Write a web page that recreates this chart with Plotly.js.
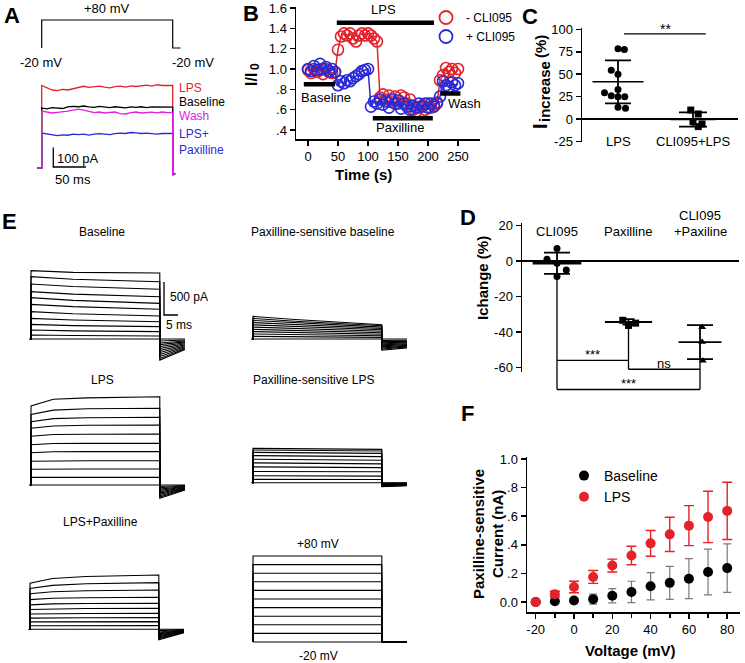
<!DOCTYPE html>
<html><head><meta charset="utf-8">
<script src="https://cdn.plot.ly/plotly-3.0.1.min.js"></script>
<style>html,body{margin:0;padding:0;background:#fff;}#chart{width:745px;height:663px;}</style>
</head><body><div id="chart"></div>
<script>
// ================= DATA =================
// Panel A: voltage protocol (mV, ms) and representative currents (pA)
const protoAHold = -20, protoAStep = 80, protoADur = 200;
const tA = [0,8,16,24,32,40,48,56,64,72,80,88,96,104,112,120,128,136,144,152,160,168,176,184,192,200];
const aLps     = [423,410,400,397,403,400,407,415,419,413,418,420,415,411,417,420,415,421,418,423,425,420,427,423,425,424];
const aBase    = [308,303,310,308,305,313,316,314,318,313,311,316,312,310,314,312,308,313,311,314,310,313,312,314,313,312];
const aWash    = [292,287,282,285,287,292,297,302,297,289,284,287,282,285,287,279,277,284,287,282,285,287,283,287,284,285];
const aLpsPax  = [179,174,169,166,170,168,174,171,174,169,174,176,174,171,176,179,177,182,180,177,179,176,174,177,179,178];
const aTail = [-36,-28];
const aLabels = ['LPS','Baseline','Wash','LPS+','Paxilline'];

// Panel B: normalised current vs time
const tB = [0,5,10,15,20,25,30,35,40,45,50,55,60,65,70,75,80,85,90,95,100,105,110,115,120,125,130,135,140,145,150,155,160,165,170,175,180,185,190,195,200,205,210,215,220,225,230,235,240,245,250];
const bMinusCli = [0.99,0.96,1.00,0.97,0.99,0.95,1.00,0.97,0.96,0.97,1.19,1.32,1.35,1.33,1.35,1.30,1.27,1.33,1.35,1.33,1.35,1.33,1.30,1.27,0.72,0.75,0.70,0.74,0.68,0.73,0.66,0.74,0.72,0.66,0.70,0.60,0.58,0.62,0.64,0.60,0.66,0.62,0.65,0.66,0.89,0.94,1.01,0.97,1.00,0.96,1.00];
const bPlusCli  = [1.00,0.98,1.03,0.99,1.05,1.00,1.02,0.98,1.00,0.97,0.84,0.88,0.86,0.89,0.88,0.91,0.93,0.95,0.98,0.99,1.00,0.63,0.68,0.66,0.70,0.65,0.68,0.62,0.70,0.66,0.69,0.61,0.66,0.63,0.60,0.64,0.62,0.66,0.63,0.66,0.62,0.66,0.63,0.67,0.73,0.88,0.84,0.82,0.87,0.84,0.86];
const bPhaseNames = ['LPS','Baseline','Paxilline','Wash'];
const bPhaseStart = [48,-7,108,221];
const bPhaseEnd   = [210,45,208,254];
const bPhaseLevel = [1.455,0.85,0.515,0.76];
const bTicksY = [0.4,0.6,0.8,1.0,1.2,1.4,1.6];
const bTickTextY = ['.4','.6','.8','1.0','1.2','1.4','1.6'];

// Panel C: I increase (%)
const cCats = ['LPS','CLI095+LPS'];
const cLpsVals = [78.5,77.7,54.4,50,33,29.3,26,24.8,24.8,13,11.9];
const cLpsJit  = [0,0.085,-0.09,0,0,-0.18,-0.09,0,0.09,0,0.1];
const cCliVals = [10,5.6,-3,-5.5,-8.5];
const cCliJit  = [-0.03,0.07,0,0.12,0.07];
const cMeans = [41.5,-0.5];
const cSDs   = [24,8];
const cSig = {from:1.08, to:2.17, level:95, text:'**'};
const cTicks = [-25,0,25,50,75,100];
const cTickText = ['-25','0','25','50','75','100'];

// Panel D: I change (%)
const dCats = ['CLI095','Paxilline','CLI095','+Paxiline'];
const dCliVals = [7,1,-1.3,-5,-8.7];
const dCliJit  = [0,-0.14,0,0.13,0];
const dPaxVals = [-33.4,-36.3,-35];
const dPaxJit  = [-0.08,0,0.1];
const dCpVals  = [-37.3,-45.6,-56.2];
const dCpJit   = [0.03,0.03,0.04];
const dMeans = [-1.3,-34.3,-45.7];
const dSDs   = [6,1.5,9.6];
const dSigFrom  = [1,2,1];
const dSigTo    = [2,3,3];
const dSigLevel = [-56,-61,-72.4];
const dSigText  = ['***','ns','***'];
const dTicks = [-60,-40,-20,0,20];
const dTickText = ['-60','-40','-20','0','20'];

// Panel E: current families (pA) at sample times (ms); tails after the pulse
const ePulse = 46, eTailEnd = 55;
const stepLevels = [-20,-10,0,10,20,30,40,50,60,70,80];
const baseT = [0,15,46];
const baseI0  = [1035,944,833,717,626,525,414,313,222,136,61,0];
const baseI15 = [1010,905,795,680,585,490,382,288,203,123,52,0];
const baseI46 = [1000,868,753,641,540,450,348,262,187,111,45,0];
const baseTail0 = [-320,-295,-265,-235,-205,-175,-145,-115,-85,-60,-30,0];
const baseTail9 = [-160,-148,-133,-118,-103,-88,-73,-58,-43,-30,-15,0];
const pbT = [0,15,46];
const pbI0  = [343,312,280,248,214,180,146,112,76,40,0];
const pbI15 = [295,270,244,218,188,158,128,98,67,35,0];
const pbI46 = [217,200,180,160,140,118,95,72,50,25,0];
const pbTail0 = [-170,-152,-136,-120,-104,-88,-72,-56,-40,-22,0];
const pbTail9 = [-135,-120,-108,-96,-84,-72,-60,-48,-36,-18,0];
const lpsT = [0,8,20,46];
const lpsI0  = [1197,1070,960,860,740,610,490,360,238,115,0];
const lpsI8  = [1300,1135,1005,895,765,628,503,367,241,117,0];
const lpsI20 = [1320,1155,1020,905,770,630,505,368,242,117,0];
const lpsI46 = [1338,1162,1026,909,773,632,505,368,242,117,0];
const lpsTail0 = [-200,-182,-162,-142,-122,-102,-82,-62,-42,-22,0];
const lpsTail9 = [-75,-68,-60,-52,-45,-38,-30,-22,-15,-8,0];
const plT = [0,20,46];
const plI0  = [520,495,460,410,355,300,240,170,105,50,0];
const plI20 = [515,488,452,402,346,290,232,167,101,50,0];
const plI46 = [505,480,445,395,340,285,228,165,100,48,0];
const plTail0 = [-60,-55,-50,-45,-40,-34,-28,-22,-15,-8,0];
const plTail9 = [-45,-41,-37,-33,-29,-25,-21,-16,-11,-6,0];
const lpT = [0,8,20,46];
const lpI0  = [697,620,540,450,370,300,232,170,112,54,0];
const lpI8  = [770,665,570,470,385,310,238,174,114,55,0];
const lpI20 = [800,690,585,478,390,315,240,176,115,55,0];
const lpI46 = [823,707,596,485,394,318,242,177,116,56,0];
const lpTail0 = [-160,-145,-130,-115,-100,-85,-70,-55,-40,-20,0];
const lpTail9 = [-50,-45,-40,-35,-30,-25,-20,-15,-10,-5,0];

// Panel F: Paxilline-sensitive current (nA) vs voltage
const fV = [-20,-10,0,10,20,30,40,50,60,70,80];
const fBase    = [0,0.005,0.01,0.02,0.044,0.07,0.11,0.134,0.163,0.21,0.237];
const fBaseErr = [0,0.01,0.01,0.035,0.05,0.075,0.095,0.115,0.14,0.16,0.17];
const fLps     = [0,0.055,0.105,0.175,0.255,0.325,0.41,0.473,0.534,0.595,0.637];
const fLpsErr  = [0,0.02,0.04,0.045,0.045,0.065,0.09,0.12,0.14,0.18,0.2];
const fTicksX = [-20,0,20,40,60,80];
const fTickTextX = ['-20','0','20','40','60','80'];
const fMinorX = [-10,10,30,50,70];
const fTicksY = [0,0.2,0.4,0.6,0.8,1.0];
const fTickTextY = ['0.0','.2','.4','.6','.8','1.0'];

// ================= STYLE / LAYOUT HELPERS =================
const W = 745, H = 663;
const FONT = 'Arial, "Liberation Sans", Helvetica, sans-serif';
const RED = '#e3222a', BLUE = '#2a2ad4', MAG = '#e020e0', BLK = '#000000';
function xmap(pxL, pxR, px0, v0, s){ return {domain:[pxL/W, pxR/W], range:[v0+(pxL-px0)/s, v0+(pxR-px0)/s]}; }
function ymap(pxT, pxB, px0, v0, s){ return {domain:[1-pxB/H, 1-pxT/H], range:[v0-(pxB-px0)/s, v0+(px0-pxT)/s]}; }
const hidden = {visible:false, fixedrange:true, showgrid:false, zeroline:false};
const shown = {showline:true, linecolor:BLK, linewidth:1.5, ticks:'outside', ticklen:5, tickwidth:1.5, tickcolor:BLK,
  showgrid:false, zeroline:false, fixedrange:true, tickfont:{family:FONT, size:13, color:BLK}};

const traces = [];
function line(xa, ya, x, y, color, width, extra){
  traces.push(Object.assign({type:'scatter', mode:'lines', x, y, xaxis:xa, yaxis:ya, showlegend:false, hoverinfo:'skip',
    line:{color, width}}, extra||{}));
}

// ---- Panel A ----
line('x','y',[0,0,protoADur,protoADur,protoADur+12],[protoAHold,protoAStep,protoAStep,protoAHold,protoAHold],BLK,1.2);
[[aLps,RED],[aBase,BLK],[aLpsPax,BLUE],[aWash,MAG]].forEach(([v,c])=>{
  line('x2','y2',[-7,0].concat(tA,[protoADur,protoADur+4]),[0,0].concat(v,aTail),c,1.3);
});
const sbA = {t:17.7, i:5, dt:50, di:100};
line('x2','y2',[sbA.t,sbA.t,sbA.t+sbA.dt],[sbA.i+sbA.di,sbA.i,sbA.i],BLK,1.3);

// ---- Panel B ----
line('x3','y3',tB,bMinusCli,RED,1.5,{mode:'lines+markers',marker:{symbol:'circle-open',size:11,color:RED,line:{width:1.6,color:RED}}});
line('x3','y3',tB,bPlusCli,BLUE,1.5,{mode:'lines+markers',marker:{symbol:'circle-open',size:11,color:BLUE,line:{width:1.6,color:BLUE}}});
bPhaseNames.forEach((n,i)=>line('x3','y3',[bPhaseStart[i],bPhaseEnd[i]],[bPhaseLevel[i],bPhaseLevel[i]],BLK,4.5));
traces.push({type:'scatter',mode:'markers',x:[null],y:[null],xaxis:'x3',yaxis:'y3',name:'- CLI095',legend:'legend2',
  marker:{symbol:'circle-open',size:13,color:RED,line:{width:1.8,color:RED}}});
traces.push({type:'scatter',mode:'markers',x:[null],y:[null],xaxis:'x3',yaxis:'y3',name:'+ CLI095',legend:'legend2',
  marker:{symbol:'circle-open',size:13,color:BLUE,line:{width:1.8,color:BLUE}}});

// ---- Panel C ----
function groupMarks(xa, ya, k, vals, jit, symbol, mean, sd, meanHalf, capPx, meanW){
  traces.push({type:'scatter',mode:'markers',x:jit.map(j=>k+j),y:vals,xaxis:xa,yaxis:ya,showlegend:false,hoverinfo:'skip',
    marker:{symbol,size:7,color:BLK},cliponaxis:false});
  line(xa,ya,[k-meanHalf,k+meanHalf],[mean,mean],BLK,meanW||1.4);
  traces.push({type:'scatter',mode:'markers',x:[k],y:[mean],xaxis:xa,yaxis:ya,showlegend:false,hoverinfo:'skip',
    marker:{size:2,opacity:0},error_y:{type:'data',array:[sd],visible:true,color:BLK,thickness:1.8,width:capPx}});
}
groupMarks('x4','y4',1,cLpsVals,cLpsJit,'circle',cMeans[0],cSDs[0],0.34,13);
groupMarks('x4','y4',2,cCliVals,cCliJit,'square',cMeans[1],cSDs[1],0.3,14);
line('x4','y4',[cSig.from,cSig.to],[cSig.level,cSig.level],BLK,1.3);

// ---- Panel D ----
groupMarks('x5','y5',1,dCliVals,dCliJit,'circle',dMeans[0],dSDs[0],0.34,13,2.5);
groupMarks('x5','y5',2,dPaxVals,dPaxJit,'square',dMeans[1],dSDs[1],0.33,6,2);
groupMarks('x5','y5',3,dCpVals,dCpJit,'triangle-up',dMeans[2],dSDs[2],0.3,13,1.6);
[1,2,3].forEach(k=>{
  const lv = dSigLevel.filter((l,i)=>dSigFrom[i]===k||dSigTo[i]===k);
  line('x6','y6',[k,k],[dMeans[k-1]-dSDs[k-1],Math.min(...lv)],BLK,1.3);
});
dSigLevel.forEach((l,i)=>line('x6','y6',[dSigFrom[i],dSigTo[i]],[l,l],BLK,1.3));

// ---- Panel E ----
function family(xa, ya, times, levelArrs, tail0, tail9){
  tail0.forEach((_,i)=>{
    line(xa,ya,[-0.4,0].concat(times,[ePulse,eTailEnd]),[0,0].concat(levelArrs.map(a=>a[i]),[tail0[i],tail9[i]]),BLK,1.1);
  });
}
family('x7','y7',baseT,[baseI0,baseI15,baseI46],baseTail0,baseTail9);
family('x8','y8',pbT,[pbI0,pbI15,pbI46],pbTail0,pbTail9);
family('x9','y9',lpsT,[lpsI0,lpsI8,lpsI20,lpsI46],lpsTail0,lpsTail9);
family('x10','y10',plT,[plI0,plI20,plI46],plTail0,plTail9);
family('x11','y11',lpT,[lpI0,lpI8,lpI20,lpI46],lpTail0,lpTail9);
stepLevels.forEach(v=>line('x12','y12',[0,0,ePulse,ePulse,eTailEnd],[stepLevels[0],v,v,stepLevels[0],stepLevels[0]],BLK,1.1));
const sbE = {t:47.5, i:364, dt:5, di:500};
line('x7','y7',[sbE.t,sbE.t,sbE.t+sbE.dt],[sbE.i+sbE.di,sbE.i,sbE.i],BLK,1.3);

// ---- Panel F ----
traces.push({type:'scatter',mode:'markers',x:fV,y:fBase,xaxis:'x13',yaxis:'y13',name:'Baseline',legend:'legend',hoverinfo:'skip',
  marker:{size:10,color:BLK},error_y:{type:'data',array:fBaseErr,visible:true,color:'#7a7a7a',thickness:1.2,width:4},cliponaxis:false});
traces.push({type:'scatter',mode:'markers',x:fV,y:fLps,xaxis:'x13',yaxis:'y13',name:'LPS',legend:'legend',hoverinfo:'skip',
  marker:{size:10,color:RED},error_y:{type:'data',array:fLpsErr,visible:true,color:RED,thickness:1.4,width:5},cliponaxis:false});

// ================= AXES =================
const layout = {
  width:W, height:H, margin:{l:0,r:0,t:0,b:0}, paper_bgcolor:'#fff', plot_bgcolor:'rgba(0,0,0,0)',
  font:{family:FONT, size:13, color:BLK}, showlegend:true,
  xaxis:  Object.assign({}, hidden, xmap(30,200,41.7,0,0.655), {anchor:'y'}),
  yaxis:  Object.assign({}, hidden, ymap(12,56,48,-20,0.28), {anchor:'x'}),
  xaxis2: Object.assign({}, hidden, xmap(30,200,41.7,0,0.655), {anchor:'y2'}),
  yaxis2: Object.assign({}, hidden, ymap(75,185,168,0,0.195), {anchor:'x2'}),
  xaxis3: Object.assign({}, shown, xmap(296,480,308,0,0.6), {anchor:'y3', tickvals:[0,50,100,150,200,250]}),
  yaxis3: Object.assign({}, shown, ymap(7,139.2,69,1.0,101.7), {anchor:'x3', tickvals:bTicksY, ticktext:bTickTextY}),
  xaxis4: Object.assign({}, hidden, xmap(582,738,618,1,75), {anchor:'y4'}),
  yaxis4: Object.assign({}, shown, ymap(28,142,119,0,0.896), {anchor:'x4', tickvals:cTicks, ticktext:cTickText,
            zeroline:true, zerolinecolor:BLK, zerolinewidth:1.5}),
  xaxis5: Object.assign({}, hidden, xmap(522,739,557,1,71.5), {anchor:'y5'}),
  yaxis5: Object.assign({}, shown, ymap(223,372,261,0,1.775), {anchor:'x5', tickvals:dTicks, ticktext:dTickText,
            zeroline:true, zerolinecolor:BLK, zerolinewidth:1.5}),
  xaxis6: Object.assign({}, hidden, xmap(522,739,557,1,71.5), {anchor:'y6'}),
  yaxis6: Object.assign({}, hidden, ymap(223,396,261,0,1.775), {anchor:'x6'}),
  xaxis7: Object.assign({}, hidden, xmap(18,195,31,0,2.8), {anchor:'y7'}),
  yaxis7: Object.assign({}, hidden, ymap(255,372,339,0,0.066), {anchor:'x7'}),
  xaxis8: Object.assign({}, hidden, xmap(240,420,253,0,2.8), {anchor:'y8'}),
  yaxis8: Object.assign({}, hidden, ymap(300,362,339,0,0.066), {anchor:'x8'}),
  xaxis9: Object.assign({}, hidden, xmap(18,195,31,0,2.8), {anchor:'y9'}),
  yaxis9: Object.assign({}, hidden, ymap(390,505,485,0,0.066), {anchor:'x9'}),
  xaxis10: Object.assign({}, hidden, xmap(240,420,253,0,2.8), {anchor:'y10'}),
  yaxis10: Object.assign({}, hidden, ymap(440,497,482.7,0,0.066), {anchor:'x10'}),
  xaxis11: Object.assign({}, hidden, xmap(18,195,30,0,2.8), {anchor:'y11'}),
  yaxis11: Object.assign({}, hidden, ymap(565,650,629.3,0,0.066), {anchor:'x11'}),
  xaxis12: Object.assign({}, hidden, xmap(240,420,253,0,2.8), {anchor:'y12'}),
  yaxis12: Object.assign({}, hidden, ymap(550,648,642,-20,0.86), {anchor:'x12'}),
  xaxis13: Object.assign({}, shown, xmap(527,740,574,0,1.915), {anchor:'y13', tickvals:fTicksX, ticktext:fTickTextX,
            minor:{tickvals:fMinorX, ticks:'outside', ticklen:4, tickwidth:1.5, tickcolor:BLK, showgrid:false}}),
  yaxis13: Object.assign({}, shown, ymap(457,612,602,0,143), {anchor:'x13', tickvals:fTicksY, ticktext:fTickTextY}),
  legend:  {x:564/W, y:1-460/H, xanchor:'left', yanchor:'top', bgcolor:'rgba(0,0,0,0)', font:{family:FONT,size:14,color:BLK}, tracegroupgap:0},
  legend2: {x:426/W, y:1-3/H, xanchor:'left', yanchor:'top', bgcolor:'rgba(0,0,0,0)', font:{family:FONT,size:12,color:BLK}, tracegroupgap:0},
  annotations: []
};

// ================= TEXT =================
function T(text, px, py, o){
  const base = {text, x:px/W, y:1-py/H, xref:'paper', yref:'paper', showarrow:false, xanchor:'center', yanchor:'middle',
    font:{family:FONT, size:13, color:BLK}};
  if (o && o.font) o.font = Object.assign({}, base.font, o.font);
  layout.annotations.push(Object.assign(base, o||{}));
}
[['A',12,15],['B',251,13],['C',530,16],['D',468,218],['E',9,222],['F',467,413]].forEach(([l,x,y])=>T('<b>'+l+'</b>',x,y,{font:{size:22}}));
// A
T('+80 mV',106,9); T('-20 mV',41,62); T('-20 mV',193,62);
const aLabelY = [88,102,116,134,150], aLabelC = [RED,BLK,MAG,BLUE,BLUE];
aLabels.forEach((t,i)=>T(t,177,aLabelY[i],{xanchor:'left',font:{size:12,color:aLabelC[i]}}));
T('100 pA',55,158,{xanchor:'left'}); T('50 ms',53,180,{xanchor:'left'});
// B
const bLabelPos = [[383,10],[326,97],[400,128],[464,103]];
bPhaseNames.forEach((n,i)=>T(n,bLabelPos[i][0],bLabelPos[i][1]));
T('<b>I/I</b>',251,80,{textangle:-90,font:{size:16}});
T('<b>0</b>',255,67,{textangle:-90,font:{size:12}});
T('<b>Time (s)</b>',363,175,{font:{size:15}});
// C
T(cSig.text,665,29,{font:{size:14}});
T(cCats[0],618,141); T(cCats[1],693,141);
T('<b>I</b>',540,126,{textangle:-90,font:{size:20}});
T('<b>increase</b>',545,92,{textangle:-90,font:{size:15}});
T('<b>(%)</b>',541,47,{textangle:-90,font:{size:15}});
// D
T(dCats[0],557,232); T(dCats[1],628,232); T(dCats[2],700,216); T(dCats[3],700,232);
T('<b>Ichange (%)</b>',482,278,{textangle:-90,font:{size:15}});
dSigText.forEach((s,i)=>layout.annotations.push({text:s, x:(dSigFrom[i]+dSigTo[i])/2, y:dSigLevel[i]+3.3, xref:'x6', yref:'y6',
  showarrow:false, xanchor:'center', yanchor:'middle', font:{family:FONT,size:13,color:BLK}}));
// E
T('Baseline',102,232,{font:{size:12}}); T('Paxilline-sensitive baseline',323,232,{font:{size:12}});
T('LPS',102,380,{font:{size:12}}); T('Paxilline-sensitive LPS',313,380,{font:{size:12}});
T('LPS+Paxilline',100,522,{font:{size:12}});
T('+80 mV',318,544,{font:{size:12}}); T('-20 mV',318,656,{font:{size:12}});
T('500 pA',168,297,{xanchor:'left',font:{size:12}}); T('5 ms',164,325,{xanchor:'left',font:{size:12}});
// F
T('<b>Paxilline-sensitive</b>',478,534,{textangle:-90,font:{size:15}});
T('<b>Current (nA)</b>',497,534,{textangle:-90,font:{size:15}});
T('<b>Voltage (mV)</b>',630,650,{font:{size:15}});

Plotly.newPlot('chart', traces, layout, {staticPlot:true, displayModeBar:false});
</script></body></html>
